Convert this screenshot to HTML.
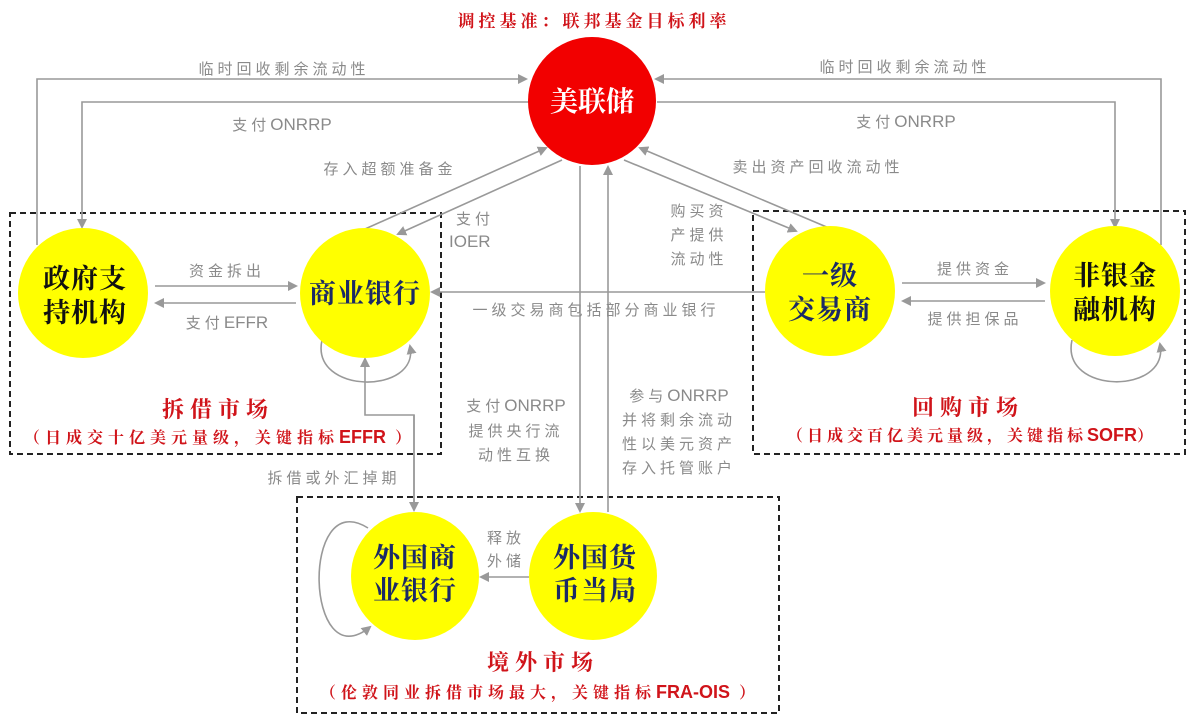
<!DOCTYPE html>
<html><head><meta charset="utf-8"><style>
html,body{margin:0;padding:0;background:#fff}
svg{display:block}
text{font-family:"Liberation Sans","Noto Sans CJK SC",sans-serif}
.l{fill:#8a8a8a;font-size:15px;letter-spacing:4px}
.e{letter-spacing:0;font-size:17px}
.n{font-size:27px;font-weight:bold;fill:#1b2a66;font-family:"Noto Serif CJK SC","Noto Sans CJK SC",serif;letter-spacing:1px}
.nb{font-size:27px;font-weight:bold;fill:#111;font-family:"Noto Serif CJK SC","Noto Sans CJK SC",serif;letter-spacing:1px}
.r{fill:#d0141a;font-weight:bold;font-family:"Noto Serif CJK SC","Noto Sans CJK SC",serif}
.ln{stroke:#999;stroke-width:1.6;fill:none}
.bx{stroke:#222;stroke-width:2;stroke-dasharray:6,4;fill:none}
</style></head><body>
<svg width="1188" height="717" viewBox="0 0 1188 717">
<defs><marker id="a" markerWidth="10" markerHeight="10" refX="8" refY="5" orient="auto" markerUnits="userSpaceOnUse"><path d="M0,0 L10,5 L0,10 z" fill="#999"/></marker></defs>

<rect class="bx" x="10" y="213" width="431" height="241"/>
<rect class="bx" x="753" y="211" width="432" height="243"/>
<rect class="bx" x="297" y="497" width="482" height="216"/>

<path class="ln" d="M37,245 V79 H526" marker-end="url(#a)"/>
<path class="ln" d="M530,102 H82 V227" marker-end="url(#a)"/>
<path class="ln" d="M1161,245 V79 H656" marker-end="url(#a)"/>
<path class="ln" d="M657,102 H1115 V227" marker-end="url(#a)"/>
<path class="ln" d="M365,229 L546,148" marker-end="url(#a)"/>
<path class="ln" d="M562,160 L398,234" marker-end="url(#a)"/>
<path class="ln" d="M624,160 L796,231" marker-end="url(#a)"/>
<path class="ln" d="M829,228 L640,148" marker-end="url(#a)"/>
<path class="ln" d="M765,292 H432" marker-end="url(#a)"/>
<path class="ln" d="M155,286 H296" marker-end="url(#a)"/>
<path class="ln" d="M296,303 H156" marker-end="url(#a)"/>
<path class="ln" d="M902,283 H1044" marker-end="url(#a)"/>
<path class="ln" d="M1045,301 H903" marker-end="url(#a)"/>
<path class="ln" d="M322,340 C310,395 420,395 410,346" marker-end="url(#a)"/>
<path class="ln" d="M1072,340 C1060,395 1170,395 1160,344" marker-end="url(#a)"/>
<path class="ln" d="M414,510 V415 H365 V359" marker-end="url(#a)"/>
<path class="ln" d="M414,415 V510" marker-end="url(#a)"/>
<path class="ln" d="M580,166 V511" marker-end="url(#a)"/>
<path class="ln" d="M608,512 V167" marker-end="url(#a)"/>
<path class="ln" d="M529,577 H481" marker-end="url(#a)"/>
<path class="ln" d="M368,528 C300,485 305,680 370,627" marker-end="url(#a)"/>

<circle cx="592" cy="101" r="64" fill="#f20000"/>
<circle cx="83" cy="293" r="65" fill="#ffff00"/>
<circle cx="365" cy="293" r="65" fill="#ffff00"/>
<circle cx="830" cy="291" r="65" fill="#ffff00"/>
<circle cx="1115" cy="291" r="65" fill="#ffff00"/>
<circle cx="415" cy="576" r="64" fill="#ffff00"/>
<circle cx="593" cy="576" r="64" fill="#ffff00"/>

<text x="592" y="111" text-anchor="middle" style="font-size:28px;font-weight:bold;fill:#fff;font-family:'Noto Serif CJK SC',serif">美联储</text>
<text class="nb" x="85" y="288" text-anchor="middle">政府支</text>
<text class="nb" x="85" y="322" text-anchor="middle">持机构</text>
<text class="n" x="365" y="303" text-anchor="middle">商业银行</text>
<text class="n" x="830" y="285" text-anchor="middle">一级</text>
<text class="n" x="830" y="319" text-anchor="middle">交易商</text>
<text class="nb" x="1115" y="285" text-anchor="middle">非银金</text>
<text class="nb" x="1115" y="319" text-anchor="middle">融机构</text>
<text class="n" x="415" y="567" text-anchor="middle">外国商</text>
<text class="n" x="415" y="600" text-anchor="middle">业银行</text>
<text class="n" x="595" y="567" text-anchor="middle">外国货</text>
<text class="n" x="595" y="600" text-anchor="middle">币当局</text>

<text class="r" x="594" y="27" text-anchor="middle" style="font-size:17px;letter-spacing:4px">调控基准：联邦基金目标利率</text>
<text class="l" x="284" y="74" text-anchor="middle">临时回收剩余流动性</text>
<text class="l" x="282" y="130" text-anchor="middle">支付<tspan class="e">ONRRP</tspan></text>
<text class="l" x="905" y="72" text-anchor="middle">临时回收剩余流动性</text>
<text class="l" x="906" y="127" text-anchor="middle">支付<tspan class="e">ONRRP</tspan></text>
<text class="l" x="390" y="174" text-anchor="middle">存入超额准备金</text>
<text class="l" x="456" y="224">支付</text>
<text class="l" x="449" y="247"><tspan class="e">IOER</tspan></text>
<text class="l" x="818" y="172" text-anchor="middle">卖出资产回收流动性</text>
<text class="l" x="699" y="216" text-anchor="middle">购买资</text>
<text class="l" x="699" y="240" text-anchor="middle">产提供</text>
<text class="l" x="699" y="264" text-anchor="middle">流动性</text>
<text class="l" x="596" y="315" text-anchor="middle">一级交易商包括部分商业银行</text>
<text class="l" x="227" y="276" text-anchor="middle">资金拆出</text>
<text class="l" x="227" y="328" text-anchor="middle">支付<tspan class="e">EFFR</tspan></text>
<text class="l" x="975" y="274" text-anchor="middle">提供资金</text>
<text class="l" x="975" y="324" text-anchor="middle">提供担保品</text>
<text class="l" x="334" y="483" text-anchor="middle">拆借或外汇掉期</text>
<text class="l" x="516" y="411" text-anchor="middle">支付<tspan class="e">ONRRP</tspan></text>
<text class="l" x="516" y="436" text-anchor="middle">提供央行流</text>
<text class="l" x="516" y="460" text-anchor="middle">动性互换</text>
<text class="l" x="679" y="401" text-anchor="middle">参与<tspan class="e">ONRRP</tspan></text>
<text class="l" x="679" y="425" text-anchor="middle">并将剩余流动</text>
<text class="l" x="679" y="449" text-anchor="middle">性以美元资产</text>
<text class="l" x="679" y="473" text-anchor="middle">存入托管账户</text>
<text class="l" x="506" y="543" text-anchor="middle">释放</text>
<text class="l" x="506" y="566" text-anchor="middle">外储</text>

<text class="r" x="218" y="417" text-anchor="middle" style="font-size:22px;letter-spacing:6px">拆借市场</text>
<text class="r" x="220" y="443" text-anchor="middle" style="font-size:16px;letter-spacing:5px">（日成交十亿美元量级，关键指标<tspan style="font-family:'Liberation Sans';letter-spacing:0;font-size:18px">EFFR</tspan> ）</text>
<text class="r" x="968" y="415" text-anchor="middle" style="font-size:22px;letter-spacing:6px">回购市场</text>
<text class="r" x="972" y="441" text-anchor="middle" style="font-size:16px;letter-spacing:4px">（日成交百亿美元量级，关键指标<tspan style="font-family:'Liberation Sans';letter-spacing:0;font-size:18px">SOFR</tspan>）</text>
<text class="r" x="543" y="670" text-anchor="middle" style="font-size:22px;letter-spacing:6px">境外市场</text>
<text class="r" x="540" y="698" text-anchor="middle" style="font-size:16px;letter-spacing:5px">（伦敦同业拆借市场最大，关键指标<tspan style="font-family:'Liberation Sans';letter-spacing:0;font-size:18px">FRA-OIS</tspan> ）</text>
</svg>
</body></html>
